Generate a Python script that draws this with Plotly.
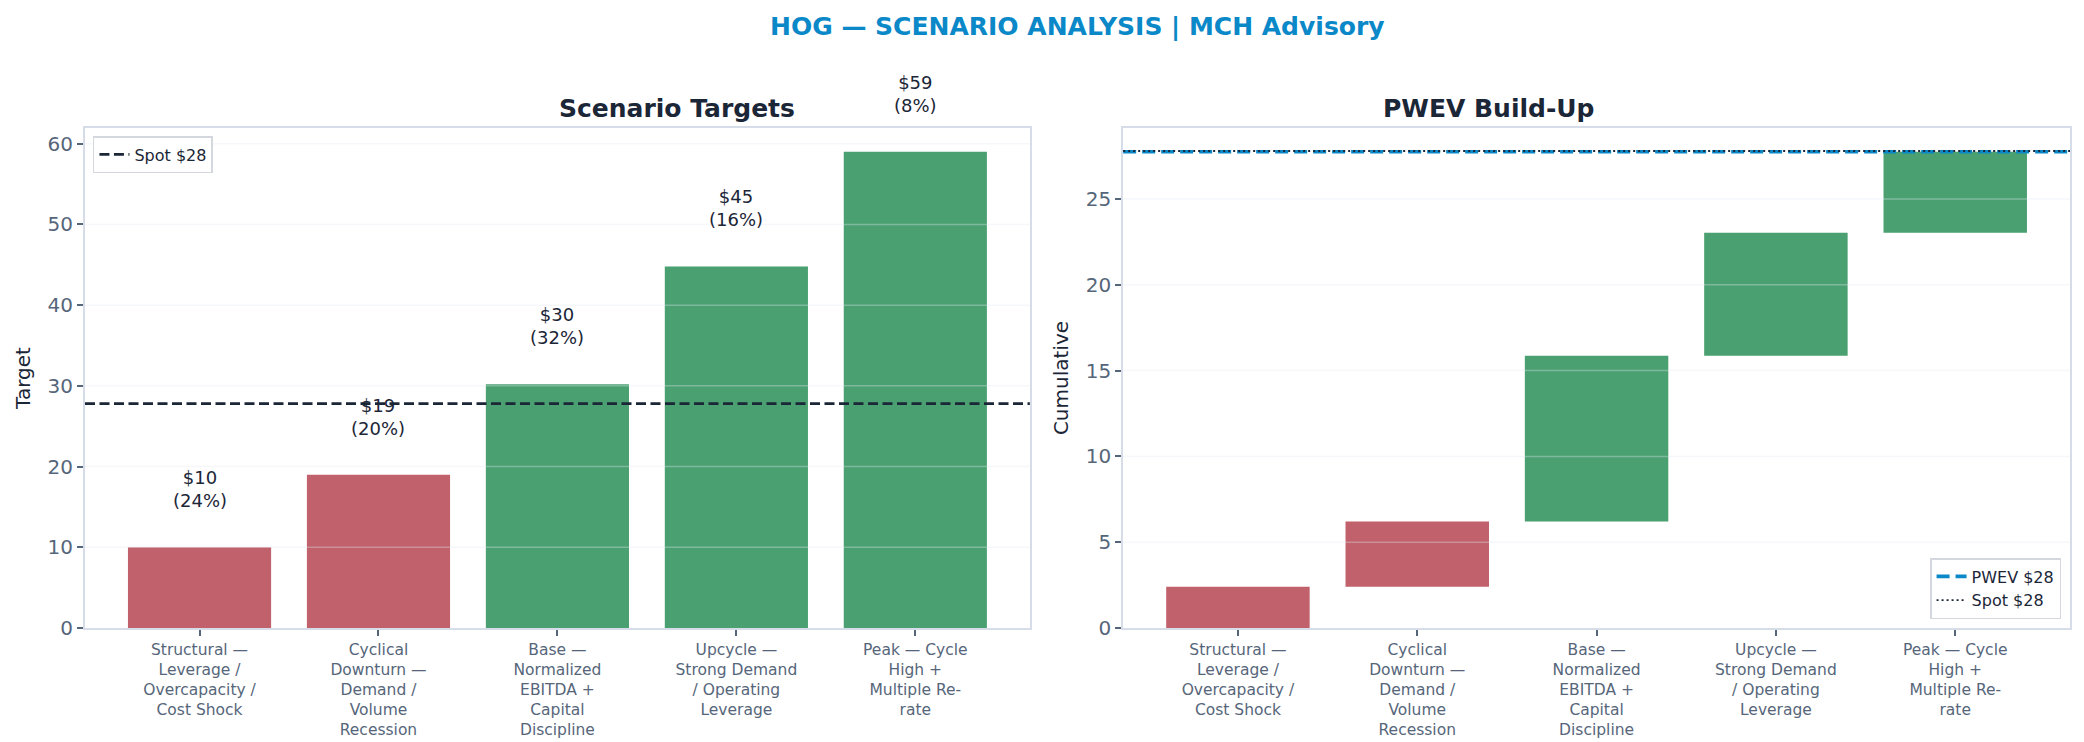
import textwrap
import numpy as np
import plotly.graph_objects as go

# ---------------- data ----------------
scenarios = [
    "Structural — Leverage / Overcapacity / Cost Shock",
    "Cyclical Downturn — Demand / Volume Recession",
    "Base — Normalized EBITDA + Capital Discipline",
    "Upcycle — Strong Demand / Operating Leverage",
    "Peak — Cycle High + Multiple Re-rate",
]
targets = [10.0, 19.0, 30.2, 44.8, 59.0]
probs = [0.24, 0.20, 0.32, 0.16, 0.08]
spot = 27.8

# ---------------- styles ----------------
RED = "#c0616b"
GREEN = "#4aa070"
BLUE = "#0a88c8"
DARK = "#1b2637"
TICK = "#56667a"
SPINE = "#d6dde8"
FONT = "DejaVu Sans"

W, H = 2084, 742
M_L, M_R, M_T, M_B = 85, 14, 128, 114
PLOT_H = H - M_T - M_B

tick_labels = ["<br>".join(textwrap.wrap(s, 14)) for s in scenarios]
xs = list(range(len(scenarios)))
colors = [RED if t < spot else GREEN for t in targets]

contrib = [t * p for t, p in zip(targets, probs)]
cum = np.cumsum(contrib)
bases = np.concatenate([[0], cum[:-1]])
pwev = float(cum[-1])

left_max = max(targets) * 1.05
right_max = pwev * 1.05
label_off = max(targets) * 0.08
label_shift_px = label_off / left_max * PLOT_H - 4

fig = go.Figure()

# Left: scenario targets
fig.add_trace(go.Bar(
    x=xs, y=targets, marker=dict(color=colors, line=dict(width=0)),
    width=0.8, showlegend=False, xaxis="x", yaxis="y", hoverinfo="skip",
))

# Right: PWEV build-up waterfall
fig.add_trace(go.Bar(
    x=xs, y=contrib, base=bases, marker=dict(color=colors, line=dict(width=0)),
    width=0.8, showlegend=False, xaxis="x2", yaxis="y2", hoverinfo="skip",
))

annotations = []
for x, t, p in zip(xs, targets, probs):
    annotations.append(dict(
        x=x, y=t, xref="x", yref="y", yanchor="bottom", yshift=label_shift_px,
        text=f"${t:.0f}<br>({p:.0%})", showarrow=False,
        font=dict(family=FONT, size=18, color=DARK), align="center",
    ))

annotations += [
    dict(x=0.5, y=1, xref="paper", yref="paper", yanchor="bottom", yshift=85,
         text="<b>HOG — SCENARIO ANALYSIS | MCH Advisory</b>", showarrow=False,
         font=dict(family=FONT, size=25, color=BLUE)),
    dict(x=0.238, y=1, xref="paper", yref="paper", yanchor="bottom", yshift=3,
         text="<b>Scenario Targets</b>", showarrow=False,
         font=dict(family=FONT, size=25, color=DARK)),
    dict(x=0.7615, y=1, xref="paper", yref="paper", yanchor="bottom", yshift=3,
         text="<b>PWEV Build-Up</b>", showarrow=False,
         font=dict(family=FONT, size=25, color=DARK)),
]

shapes = []
# light gridlines drawn above bars (as in reference)
for v in np.arange(10, left_max, 10):
    shapes.append(dict(type="line", xref="x domain", yref="y", x0=0, x1=1, y0=v, y1=v,
                       line=dict(color="rgba(226,232,240,0.35)", width=1.5), layer="above"))
for v in np.arange(5, right_max, 5):
    shapes.append(dict(type="line", xref="x2 domain", yref="y2", x0=0, x1=1, y0=v, y1=v,
                       line=dict(color="rgba(226,232,240,0.35)", width=1.5), layer="above"))

# reference lines
shapes.append(dict(type="line", xref="x domain", yref="y", x0=0, x1=1, y0=spot, y1=spot,
                   line=dict(color=DARK, width=2.7, dash="10px,4.5px"), layer="above",
                   showlegend=True, name=f"Spot ${spot:.0f}", legend="legend"))
shapes.append(dict(type="line", xref="x2 domain", yref="y2", x0=0, x1=1, y0=pwev, y1=pwev,
                   line=dict(color=BLUE, width=3.6, dash="13px,6px"), layer="above",
                   showlegend=True, name=f"PWEV ${pwev:.0f}", legend="legend2"))
shapes.append(dict(type="line", xref="x2 domain", yref="y2", x0=0, x1=1, y0=spot, y1=spot,
                   line=dict(color=DARK, width=1.8, dash="2px,3px"), layer="above",
                   showlegend=True, name=f"Spot ${spot:.0f}", legend="legend2"))

xcommon = dict(
    tickvals=xs, ticktext=tick_labels, range=[-0.64, len(xs) - 1 + 0.64],
    ticks="outside", ticklen=6, tickwidth=1.5, tickcolor=TICK,
    tickfont=dict(family=FONT, size=15.5, color=TICK),
    showline=True, linecolor=SPINE, linewidth=2, mirror=True,
    showgrid=False, zeroline=False, automargin=False,
)
ycommon = dict(
    ticks="outside", ticklen=6, tickwidth=1.5, tickcolor=TICK,
    tickfont=dict(family=FONT, size=20, color=TICK),
    showline=True, linecolor=SPINE, linewidth=2, mirror=True,
    showgrid=False, zeroline=False, automargin=False,
)

fig.update_layout(
    width=W, height=H,
    margin=dict(l=M_L, r=M_R, t=M_T, b=M_B),
    paper_bgcolor="white", plot_bgcolor="white",
    font=dict(family=FONT, color=DARK),
    barmode="overlay",
    xaxis=dict(domain=[0, 0.476], anchor="y", **xcommon),
    yaxis=dict(domain=[0, 1], anchor="x", range=[0, left_max], dtick=10,
               title=dict(text="Target", font=dict(family=FONT, size=20, color=DARK), standoff=12),
               **ycommon),
    xaxis2=dict(domain=[0.523, 1], anchor="y2", **xcommon),
    yaxis2=dict(domain=[0, 1], anchor="x2", range=[0, right_max], dtick=5,
                title=dict(text="Cumulative", font=dict(family=FONT, size=20, color=DARK), standoff=12),
                **ycommon),
    legend=dict(x=0.004, y=0.984, xanchor="left", yanchor="top",
                bgcolor="white", bordercolor="#d4d8de", borderwidth=1.5,
                font=dict(family=FONT, size=16, color=DARK)),
    legend2=dict(x=0.9955, y=0.018, xanchor="right", yanchor="bottom",
                 bgcolor="white", bordercolor="#d4d8de", borderwidth=1.5,
                 font=dict(family=FONT, size=16, color=DARK)),
    annotations=annotations,
    shapes=shapes,
)

fig.write_html("out.html")
